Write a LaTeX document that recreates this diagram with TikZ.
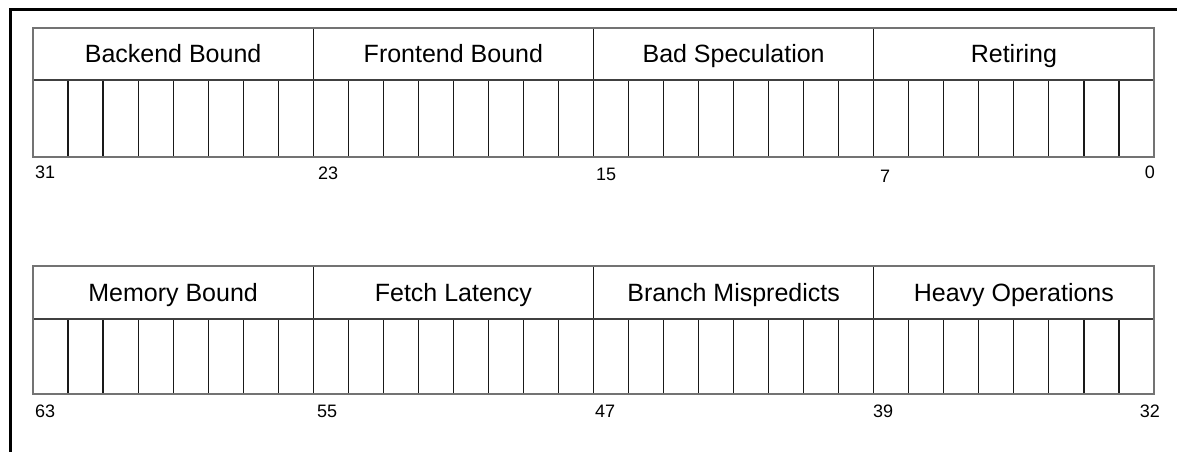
\documentclass[tikz,border=0pt]{standalone}
\usepackage{fontspec}
\setmainfont{Liberation Sans}
\begin{document}
\begin{tikzpicture}[x=1pt,y=-1pt,
  hdr/.style={anchor=base,inner sep=0pt,font=\fontsize{25}{30}\selectfont},
  bitnum/.style={inner sep=0pt,font=\fontsize{18}{21}\selectfont},
  cellline/.style={draw=black!90,line width=1.15pt},
  outline/.style={draw=black!55,line width=1.6pt},
  midline/.style={draw=black!75,line width=1.5pt}]
\useasboundingbox (0,0) rectangle (1177,452);
\fill[white] (0,0) rectangle (1177,452);
% frame
\draw[line width=3pt] (10,452) -- (10,10) -- (1177,10);
\def\cw{35.03125}
% rows: top, header bottom, cell bottom
\foreach \T/\H/\B in {28/80/157, 266/319/394}{
  \foreach \i in {1,...,31}{
    \draw[cellline] ({33+\i*\cw},\H) -- ({33+\i*\cw},\B);
  }
  \foreach \i in {8,16,24}{
    \draw[cellline] ({33+\i*\cw},\T) -- ({33+\i*\cw},\H);
  }
  \draw[midline] (33,\H) -- (1154,\H);
  \draw[outline] (33,\T) rectangle (1154,\B);
}
% header labels, top row
\node[hdr] (h1) at ({33+4*\cw},63) {Backend Bound};
\node[hdr] (h2) at ({33+12*\cw},63) {Frontend Bound};
\node[hdr] (h3) at ({33+20*\cw},63) {Bad Speculation};
\node[hdr] (h4) at ({33+28*\cw},63) {Retiring};
% header labels, bottom row
\node[hdr] (h5) at ({33+4*\cw},301) {Memory Bound};
\node[hdr] (h6) at ({33+12*\cw},301) {Fetch Latency};
\node[hdr] (h7) at ({33+20*\cw},301) {Branch Mispredicts};
\node[hdr] (h8) at ({33+28*\cw},301) {Heavy Operations};
% bit numbers, top row
\node[bitnum,anchor=base west] (b31) at (35,178) {31};
\node[bitnum,anchor=base west] (b23) at (318,179) {23};
\node[bitnum,anchor=base west] (b15) at (596,180) {15};
\node[bitnum,anchor=base west] (b7) at (880,182) {7};
\node[bitnum,anchor=base east] (b0) at (1155,178) {0};
% bit numbers, bottom row
\node[bitnum,anchor=base west] (b63) at (35,417) {63};
\node[bitnum,anchor=base west] (b55) at (317,417) {55};
\node[bitnum,anchor=base west] (b47) at (595,417) {47};
\node[bitnum,anchor=base west] (b39) at (873,417) {39};
\node[bitnum,anchor=base east] (b32) at (1160,417) {32};
\end{tikzpicture}
\end{document}
